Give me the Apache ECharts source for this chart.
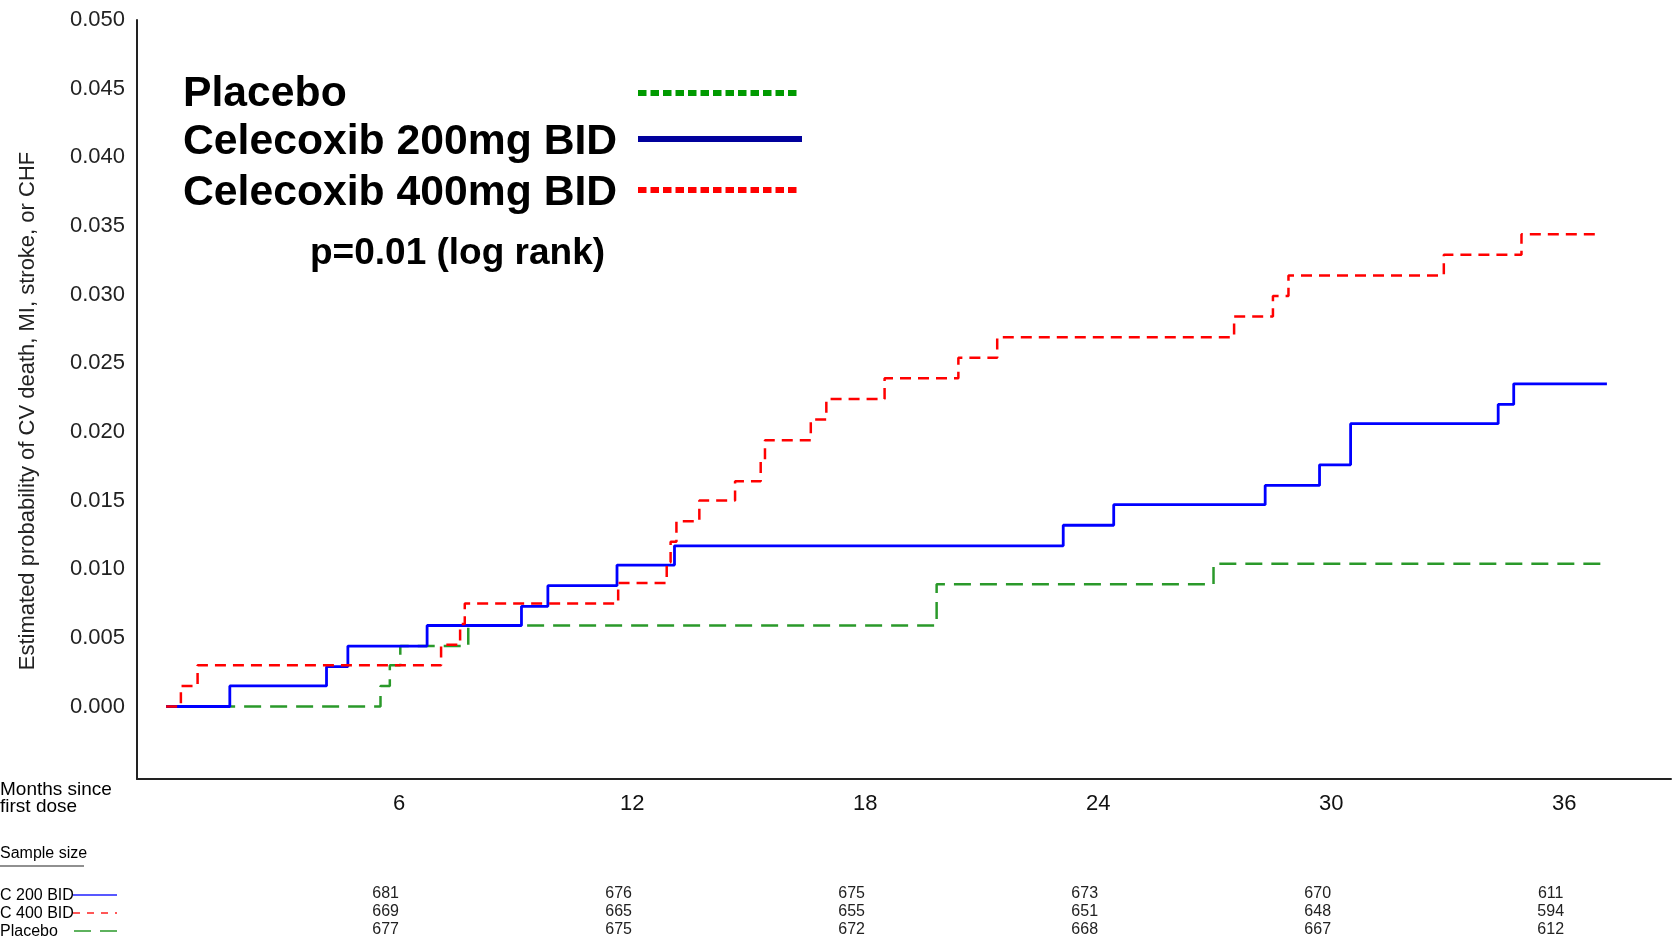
<!DOCTYPE html>
<html>
<head>
<meta charset="utf-8">
<title>Kaplan-Meier: CV death, MI, stroke, or CHF</title>
<script src="https://cdn.jsdelivr.net/npm/echarts@6/dist/echarts.min.js"></script>
<style>
  html, body { margin: 0; padding: 0; background: #fff; }
  #chart { width: 1677px; height: 938px; }
</style>
</head>
<body>
<div id="chart"></div>
<script>
// Month ticks and probability ticks
const monthTicks = [6, 12, 18, 24, 30, 36];
const probTicks = [0, 0.005, 0.010, 0.015, 0.020, 0.025, 0.030, 0.035, 0.040, 0.045, 0.050];

// Kaplan-Meier step curves: event times (months) and cumulative probability from that time on
const placeboTimes = [0, 5.52, 5.76, 6.03, 7.78, 19.84, 26.97, 37.0];
const placeboProb  = [0, 0.0015, 0.0030, 0.0044, 0.0059, 0.0089, 0.0104, 0.0104];

const c200Times = [0, 1.64, 4.13, 4.68, 6.72, 9.15, 9.83, 11.61, 13.09, 23.1, 24.4, 28.3, 29.7, 30.5, 34.3, 34.7, 37.1];
const c200Prob  = [0, 0.0015, 0.0029, 0.0044, 0.0059, 0.0073, 0.0088, 0.0103, 0.0117, 0.0132, 0.0147, 0.0161, 0.0176, 0.0206, 0.0220, 0.0235, 0.0235];

const c400Times = [0, 0.38, 0.81, 7.08, 7.57, 7.69, 11.64, 12.89, 12.99, 13.14, 13.73, 14.65, 15.31, 15.42, 16.6, 17.0, 18.5, 20.4, 21.4, 27.5, 28.5, 28.9, 32.9, 34.9, 36.8];
const c400Prob  = [0, 0.0015, 0.0030, 0.0045, 0.0060, 0.0075, 0.0090, 0.0105, 0.0120, 0.0135, 0.0150, 0.0164, 0.0179, 0.0194, 0.0209, 0.0224, 0.0239, 0.0254, 0.0269, 0.0284, 0.0299, 0.0314, 0.0329, 0.0344, 0.0344];

// Patients at risk at each month tick
const c200N    = [681, 676, 675, 673, 670, 611];
const c400N    = [669, 665, 655, 651, 648, 594];
const placeboN = [677, 675, 672, 668, 667, 612];

const FONT = '"Liberation Sans", Arial, Helvetica, sans-serif';
const X_MIN = -0.75, X_MAX = 38.75;
const Y_MIN = -0.00528, Y_MAX = 0.050;

const pairs = (ts, ps) => ts.map((t, i) => [t, ps[i]]);

function riskAxis(counts, offset) {
  return {
    type: 'value', gridIndex: 0, position: 'bottom', offset: offset,
    min: X_MIN, max: X_MAX,
    axisLine: { show: false, onZero: false }, axisTick: { show: false }, splitLine: { show: false },
    axisLabel: {
      customValues: monthTicks, margin: 0,
      fontFamily: FONT, fontSize: 16, color: '#222',
      padding: [0, 27, 0, 0],
      formatter: v => String(counts[monthTicks.indexOf(v)])
    }
  };
}

const txt = (text, x, y, size, weight, extra) => Object.assign({
  type: 'text', x: x, y: y, silent: true,
  style: { text: text, font: (weight || 'normal') + ' ' + size + 'px ' + FONT, fill: '#000',
           textAlign: 'left', textVerticalAlign: 'middle' }
}, extra || {});

const seg = (x1, y1, x2, y2, color, width, dash) => ({
  type: 'line', silent: true,
  shape: { x1: x1, y1: y1, x2: x2, y2: y2 },
  style: { stroke: color, lineWidth: width, lineDash: dash || null }
});

const chart = echarts.init(document.getElementById('chart'), null, { renderer: 'canvas' });

chart.setOption({
  animation: false,
  backgroundColor: '#fff',
  grid: { left: 137, right: 6, top: 20, bottom: 158, containLabel: false },
  xAxis: [
    {
      type: 'value', min: X_MIN, max: X_MAX,
      axisLine: { show: true, onZero: false, lineStyle: { color: '#222', width: 2 } },
      axisTick: { show: false }, splitLine: { show: false },
      axisLabel: { customValues: monthTicks, margin: 14, fontFamily: FONT, fontSize: 22, color: '#111' }
    },
    riskAxis(c200N, 107),
    riskAxis(c400N, 125),
    riskAxis(placeboN, 143)
  ],
  yAxis: {
    type: 'value', min: Y_MIN, max: Y_MAX,
    axisLine: { show: true, onZero: false, lineStyle: { color: '#222', width: 2 } },
    axisTick: { show: false }, splitLine: { show: false },
    axisLabel: {
      customValues: probTicks, margin: 12, fontFamily: FONT, fontSize: 22, color: '#222',
      formatter: v => v.toFixed(3)
    }
  },
  series: [
    {
      name: 'Placebo', type: 'line', step: 'end', showSymbol: false, z: 3,
      data: pairs(placeboTimes, placeboProb),
      lineStyle: { color: '#2a992a', width: 2.5, type: [17, 9] }
    },
    {
      name: 'Celecoxib 200mg BID', type: 'line', step: 'end', showSymbol: false, z: 4,
      data: pairs(c200Times, c200Prob),
      lineStyle: { color: '#0000ff', width: 2.8, type: 'solid' }
    },
    {
      name: 'Celecoxib 400mg BID', type: 'line', step: 'end', showSymbol: false, z: 5,
      data: pairs(c400Times, c400Prob),
      lineStyle: { color: '#ff0000', width: 2.5, type: [11, 7] }
    }
  ],
  graphic: [
    // y-axis title
    txt('Estimated probability of CV death, MI, stroke, or CHF', 28, 411, 22, 'normal', {
      rotation: Math.PI / 2,
      style: { text: 'Estimated probability of CV death, MI, stroke, or CHF',
               font: 'normal 22px ' + FONT, fill: '#222', textAlign: 'center', textVerticalAlign: 'middle' }
    }),
    // in-plot key
    txt('Placebo', 183, 94, 42.7, 'bold'),
    txt('Celecoxib 200mg BID', 183, 142, 42.7, 'bold'),
    txt('Celecoxib 400mg BID', 183, 193, 42.7, 'bold'),
    txt('p=0.01 (log rank)', 310, 254, 37, 'bold'),
    seg(638, 93, 800, 93, '#009a00', 6, [8.5, 4]),
    seg(638, 139, 802, 139, '#00009c', 6),
    seg(638, 190, 800, 190, '#ff0000', 6, [8.5, 4]),
    // at-risk table captions
    txt('Months since', 0, 790, 19, 'normal', null),
    txt('first dose', 0, 807, 19, 'normal', null),
    txt('Sample size', 0, 854, 16, 'normal', null),
    seg(0, 866, 84, 866, '#222', 1.2),
    txt('C 200 BID', 0, 896, 16, 'normal'),
    txt('C 400 BID', 0, 914, 16, 'normal'),
    txt('Placebo', 0, 932, 16, 'normal'),
    seg(73, 895, 117, 895, '#2020ff', 1.5),
    seg(73, 913, 117, 913, '#ff2020', 1.5, [7, 7]),
    seg(74, 931, 117, 931, '#2a992a', 1.5, [17, 9])
  ]
});
</script>
</body>
</html>
